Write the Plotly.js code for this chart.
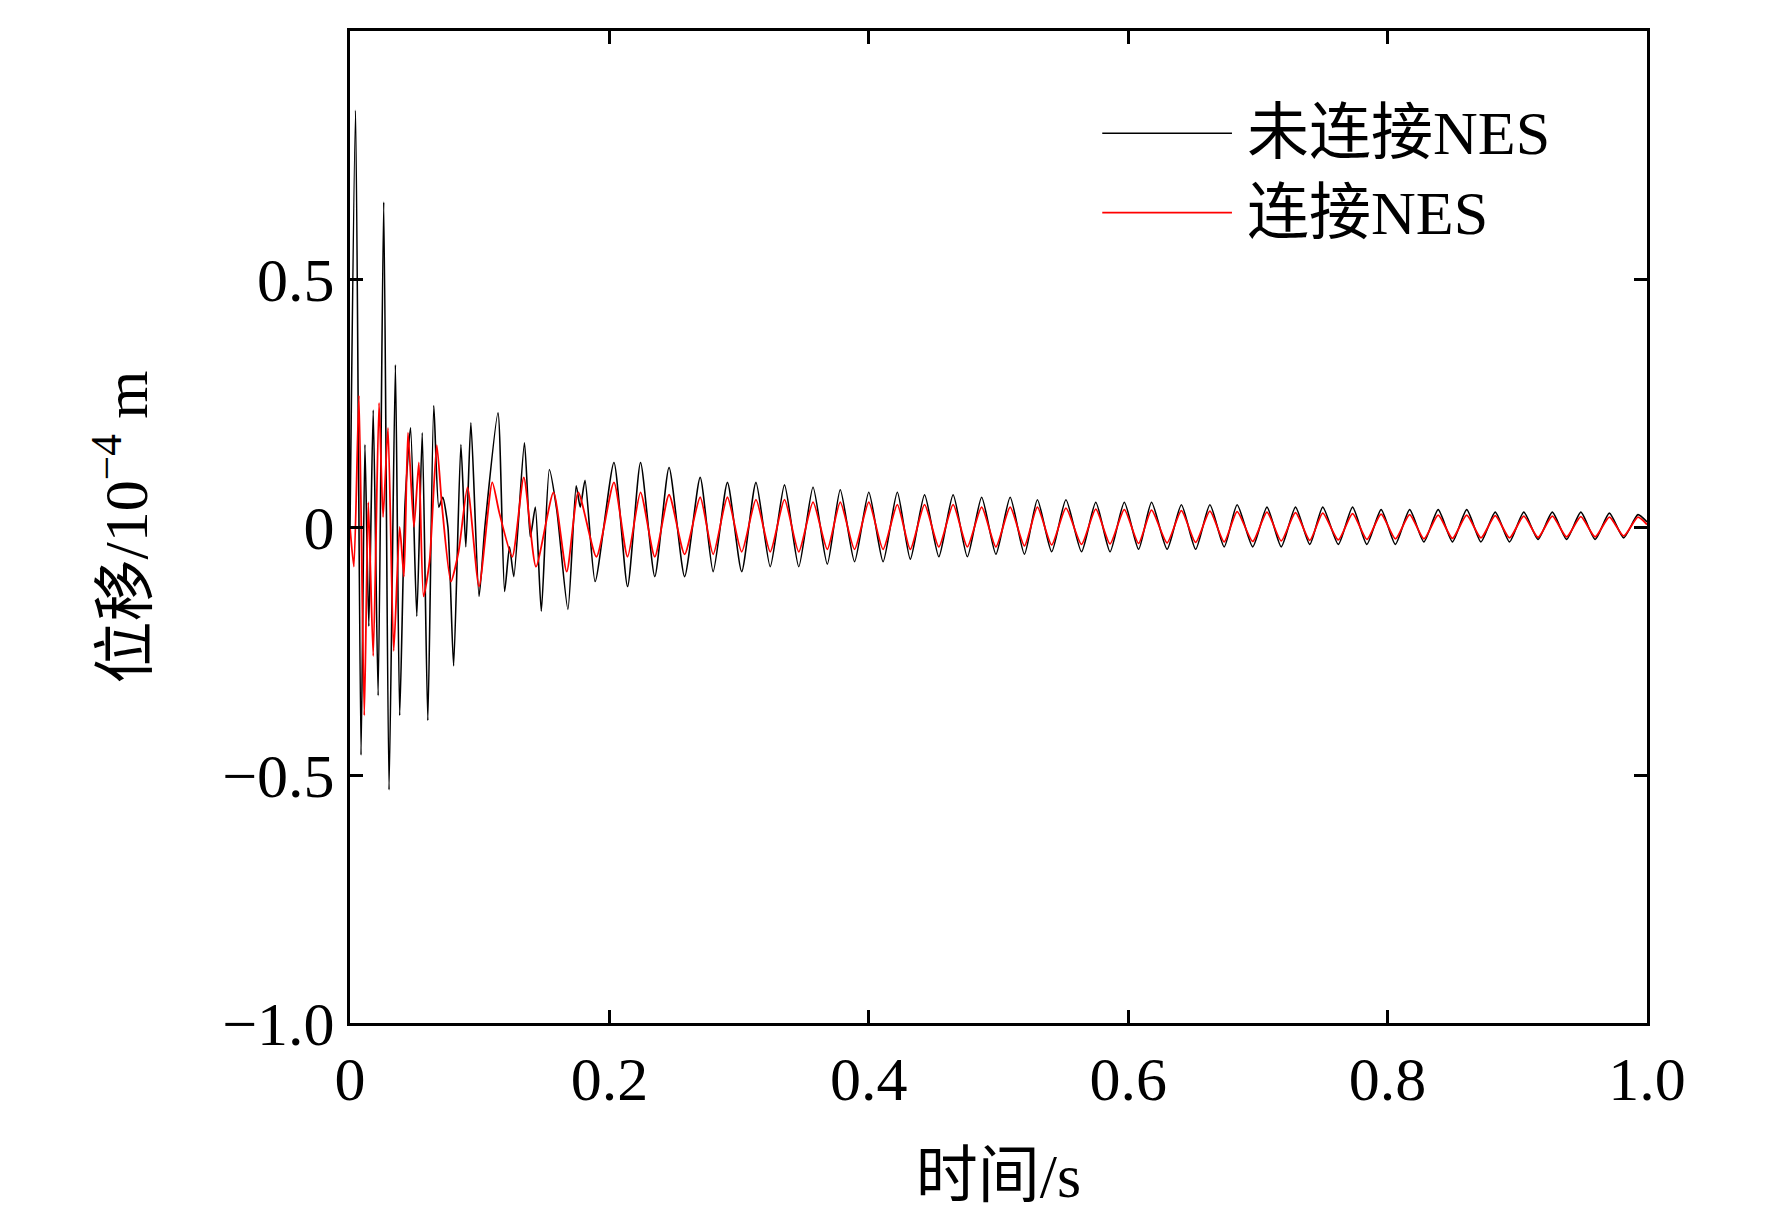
<!DOCTYPE html>
<html><head><meta charset="utf-8">
<script src="https://cdn.plot.ly/plotly-3.0.1.min.js"></script>
<style>html,body{margin:0;padding:0;background:#fff}</style>
</head><body><div id="c" style="width:1772px;height:1210px"></div>
<script>
// early transient (black, without NES)
const tBlackEarly=[0,0.0043,0.0085,0.0115,0.0145,0.0179,0.0217,0.026,0.0301,0.035,0.0383,0.0425,0.0467,0.0515,0.0557,0.06,0.0646,0.0685,0.0715,0.0755,0.0799,0.0855,0.0893,0.0932,0.0995,0.104,0.1141,0.1192,0.123,0.1263,0.1345,0.139,0.1429,0.1475,0.1537,0.1595,0.168,0.1744,0.1775,0.1812,0.189];
const vBlackEarly=[0,0.84,-0.46,0.166,-0.2,0.236,-0.34,0.655,-0.53,0.327,-0.38,0.05,0.2,-0.18,0.19,-0.39,0.245,0.04,0.06,0.0,-0.28,0.166,-0.04,0.21,-0.14,0.0,0.23,-0.13,-0.04,-0.1,0.17,-0.02,0.04,-0.17,0.116,0.033,-0.166,0.083,0.04,0.094,-0.11];
// early transient (red, with NES)
const tRedEarly=[0,0.003,0.0069,0.011,0.0141,0.0179,0.0224,0.0255,0.0293,0.0337,0.0383,0.0416,0.0447,0.0493,0.0531,0.0567,0.0613,0.0669,0.071,0.0778,0.0837,0.0906,0.0995,0.1097,0.115,0.1251,0.134,0.1434,0.1569,0.1671,0.176,0.19];
const vRedEarly=[0,-0.08,0.265,-0.38,0.05,-0.26,0.25,0.02,0.2,-0.25,0.0,-0.1,0.19,0.0,0.13,-0.14,-0.07,0.165,0.04,-0.11,-0.05,0.08,-0.12,0.09,0.03,-0.06,0.1,-0.08,0.07,-0.09,0.07,-0.06];
// steady decaying oscillation (shared extremum times)
const tTail=[0.2035,0.214,0.224,0.235,0.246,0.258,0.27,0.28,0.291,0.302,0.313,0.324,0.335,0.346,0.357,0.368,0.378,0.389,0.4,0.411,0.422,0.432,0.443,0.454,0.465,0.476,0.487,0.498,0.509,0.52,0.53,0.541,0.552,0.564,0.575,0.586,0.597,0.608,0.618,0.63,0.641,0.652,0.663,0.674,0.684,0.696,0.707,0.718,0.729,0.74,0.75,0.762,0.773,0.784,0.795,0.806,0.817,0.828,0.839,0.85,0.861,0.872,0.883,0.894,0.905,0.916,0.927,0.938,0.949,0.96,0.971,0.982,0.993,1.0];
const vBlackTail=[0.13,-0.12,0.13,-0.1,0.12,-0.1,0.1,-0.09,0.09,-0.09,0.09,-0.08,0.085,-0.08,0.08,-0.075,0.075,-0.07,0.07,-0.07,0.07,-0.065,0.065,-0.06,0.065,-0.06,0.06,-0.055,0.06,-0.055,0.055,-0.05,0.055,-0.05,0.05,-0.05,0.05,-0.045,0.05,-0.045,0.045,-0.045,0.045,-0.04,0.045,-0.04,0.04,-0.04,0.04,-0.035,0.04,-0.035,0.04,-0.035,0.035,-0.035,0.035,-0.03,0.035,-0.03,0.035,-0.03,0.03,-0.03,0.03,-0.025,0.03,-0.025,0.03,-0.025,0.028,-0.022,0.025,0.01];
const vRedTail=[0.09,-0.06,0.07,-0.06,0.065,-0.055,0.06,-0.055,0.06,-0.05,0.055,-0.05,0.055,-0.05,0.05,-0.045,0.05,-0.045,0.05,-0.045,0.045,-0.045,0.045,-0.04,0.045,-0.04,0.04,-0.04,0.04,-0.038,0.04,-0.036,0.038,-0.035,0.036,-0.034,0.035,-0.033,0.034,-0.032,0.033,-0.031,0.032,-0.03,0.031,-0.029,0.03,-0.028,0.029,-0.027,0.028,-0.026,0.027,-0.025,0.026,-0.024,0.025,-0.024,0.024,-0.023,0.024,-0.022,0.023,-0.022,0.022,-0.021,0.022,-0.02,0.021,-0.02,0.02,-0.018,0.02,0.005];
const names=['未连接NES','连接NES'];
const xTicks=[0,0.2,0.4,0.6,0.8,1.0], xTickText=['0','0.2','0.4','0.6','0.8','1.0'];
const yTicks=[-1,-0.5,0,0.5,1], yTickText=['−1.0','−0.5','0','0.5','1.0'];

const F='Liberation Serif, "Times New Roman", "Noto Sans CJK SC", serif';
const FS=62;
const traces=[
 {x:tBlackEarly.concat(tTail),y:vBlackEarly.concat(vBlackTail),mode:'lines',name:names[0],line:{color:'#000',width:1.6,shape:'spline',smoothing:0.6}},
 {x:tRedEarly.concat(tTail),y:vRedEarly.concat(vRedTail),mode:'lines',name:names[1],line:{color:'#ff0000',width:1.8,shape:'spline',smoothing:0.6}}
];
const ax={showgrid:false,zeroline:false,showline:true,linewidth:3,linecolor:'#000',mirror:'ticks',ticks:'inside',ticklen:13,tickwidth:3,tickcolor:'#000',tickfont:{family:F,size:FS,color:'#000'}};
const layout={
 width:1772,height:1210,margin:{l:350,r:125,t:31,b:187},
 paper_bgcolor:'#fff',plot_bgcolor:'#fff',showlegend:false,
 xaxis:Object.assign({},ax,{range:[0,1],tickvals:xTicks,ticktext:xTickText,title:{text:'时间/s',font:{family:F,size:FS,color:'#000'},standoff:50}}),
 yaxis:Object.assign({},ax,{range:[-1,1],tickvals:yTicks,ticktext:yTickText,title:{text:'位移/10<sup>−4</sup> m',font:{family:F,size:FS,color:'#000'},standoff:55}}),
 shapes:[
  {type:'line',xref:'paper',yref:'paper',x0:0.58,x1:0.68,y0:0.897,y1:0.897,line:{color:'#000',width:1.6}},
  {type:'line',xref:'paper',yref:'paper',x0:0.58,x1:0.68,y0:0.817,y1:0.817,line:{color:'#ff0000',width:1.8}}
 ],
 annotations:[
  {xref:'paper',yref:'paper',x:0.69,y:0.897,xanchor:'left',yanchor:'middle',showarrow:false,text:names[0],font:{family:F,size:FS,color:'#000'}},
  {xref:'paper',yref:'paper',x:0.69,y:0.817,xanchor:'left',yanchor:'middle',showarrow:false,text:names[1],font:{family:F,size:FS,color:'#000'}}
 ]
};
Plotly.newPlot('c',traces,layout,{displayModeBar:false});
</script></body></html>
